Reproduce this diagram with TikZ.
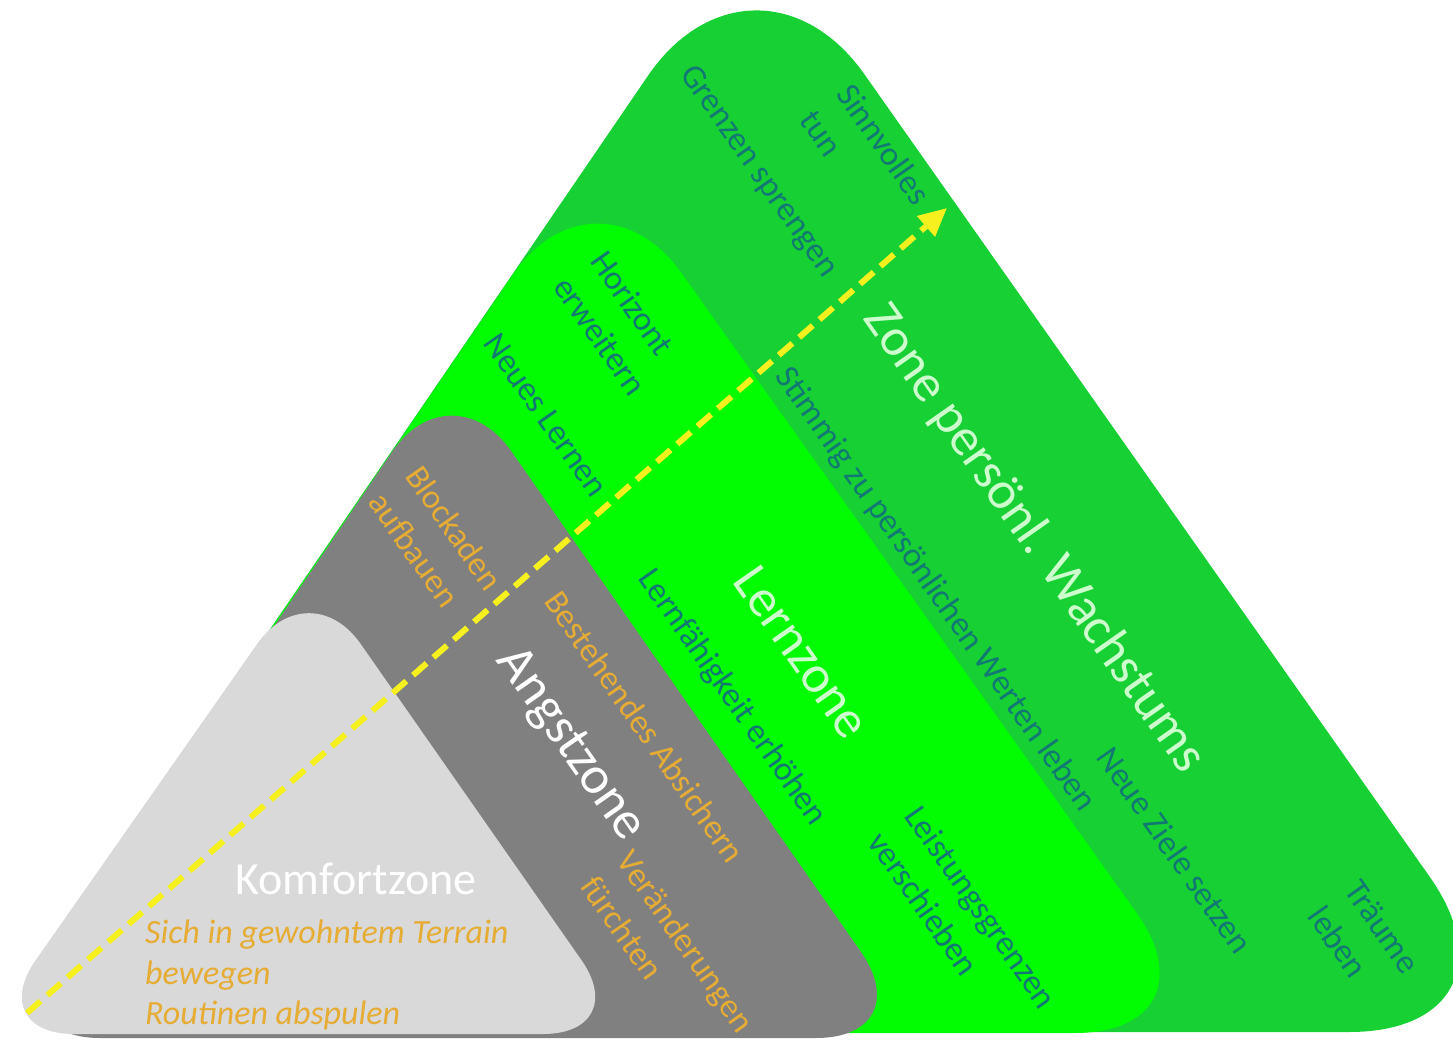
\documentclass[tikz,border=0pt]{standalone}
\usepackage{fontspec}
\setmainfont{Carlito}
\usetikzlibrary{arrows.meta}
\definecolor{zgreen}{RGB}{22,208,52}
\definecolor{lgreen}{RGB}{2,252,2}
\definecolor{agrey}{RGB}{128,128,128}
\definecolor{kgrey}{RGB}{217,217,217}
\definecolor{tealtx}{RGB}{18,120,116}
\definecolor{orngtx}{RGB}{230,172,52}
\definecolor{yelarrow}{RGB}{245,240,30}
\definecolor{palegreen}{RGB}{205,252,205}
\begin{document}
\begin{tikzpicture}[x=1pt,y=-1pt,
  smalllbl/.style={font=\fontsize{34}{45}\selectfont, inner sep=0pt, rotate=-55, align=left},
  biglbl/.style={font=\fontsize{53}{60}\selectfont, inner sep=0pt, rotate=-55},
  teallbl/.style={smalllbl, text=tealtx},
  orglbl/.style={smalllbl, text=orngtx}
]
\useasboundingbox (0,0) rectangle (1453,1040);
\fill[white] (0,0) rectangle (1453,1040);
% zones
\fill[zgreen, rounded corners=190pt] (-5,1032) -- (755,-81) -- (1539,1032) -- cycle;
\fill[lgreen, rounded corners=147pt] (-5,1033) -- (596,153) -- (1222,1033) -- cycle;
\fill[agrey, rounded corners=105pt] (-5,1038) -- (451,365) -- (921,1038) -- cycle;
\fill[kgrey, rounded corners=90pt] (-16,1034) -- (309,570) -- (633,1034) -- cycle;

% growth zone labels
\node[teallbl] (sinn) at (866,157) {Sinnvolles\\tun};
\node[teallbl] (grenz) at (758,172) {Grenzen sprengen};
\node[teallbl] (stimm) at (935,590) {Stimmig zu persönlichen Werten leben};
\node[biglbl, text=palegreen] (wachs) at (1034,539) {Zone persönl. Wachstums};
\node[teallbl] (ziele) at (1175,850) {Neue Ziele setzen};
\node[teallbl] (traeume) at (1364,940) {Träume\\leben};

% learning zone labels
\node[teallbl] (horiz) at (619,323) {Horizont\\erweitern};
\node[teallbl] (neues) at (546,415) {Neues Lernen};
\node[teallbl] (lernf) at (732,698) {Lernfähigkeit erhöhen};
\node[biglbl, text=palegreen] (lernz) at (802,652) {Lernzone};
\node[teallbl] (leist) at (963,920) {Leistungsgrenzen\\verschieben};

% fear zone labels
\node[orglbl] (block) at (436,541) {Blockaden\\aufbauen};
\node[orglbl] (best) at (645,727) {Bestehendes Absichern};
\node[biglbl, text=white] (angst) at (570,745) {Angstzone};
\node[orglbl] (veraend) at (668,954) {Veränderungen\\fürchten};

% comfort zone labels
\node[font=\fontsize{46}{52}\selectfont, text=white, inner sep=0pt] (komf) at (356,879) {Komfortzone};
\node[font=\fontsize{34}{40.5}\selectfont\itshape, text=orngtx, inner sep=0pt, align=left, anchor=north west] (sich) at (145,920) {Sich in gewohntem Terrain\\bewegen\\Routinen abspulen};

% arrow
\coordinate (arrS) at (27,1013);
\coordinate (arrE) at (947,208);
\draw[yelarrow, line width=6pt, dash pattern=on 18pt off 9pt, -{Triangle[length=28pt,width=26pt]}] (arrS) -- (arrE);
\end{tikzpicture}
\end{document}
